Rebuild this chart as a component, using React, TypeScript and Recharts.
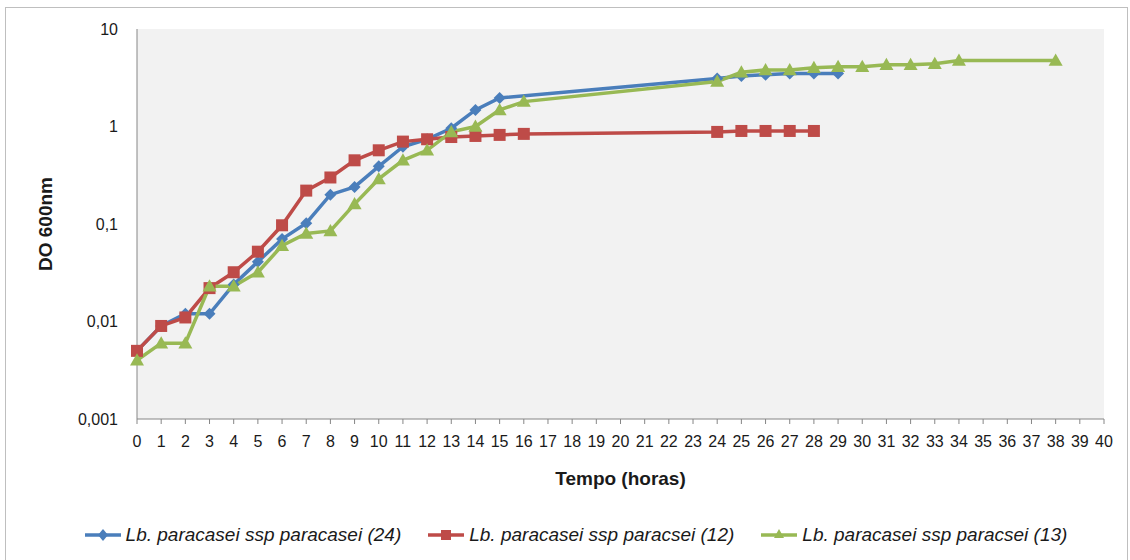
import React from 'react';
import { LineChart, Line, XAxis, YAxis, CartesianGrid, Legend } from 'recharts';

const hours24 = [0, 1, 2, 3, 4, 5, 6, 7, 8, 9, 10, 11, 12, 13, 14, 15, 24, 25, 26, 27, 28, 29];
const do24 = [0.005, 0.009, 0.012, 0.012, 0.024, 0.041, 0.07, 0.102, 0.2, 0.24, 0.39, 0.62, 0.74, 0.96, 1.48, 1.96, 3.1, 3.3, 3.4, 3.5, 3.5, 3.5];

const hours12 = [0, 1, 2, 3, 4, 5, 6, 7, 8, 9, 10, 11, 12, 13, 14, 15, 16, 24, 25, 26, 27, 28];
const do12 = [0.005, 0.009, 0.011, 0.022, 0.032, 0.052, 0.097, 0.22, 0.3, 0.45, 0.57, 0.7, 0.74, 0.78, 0.8, 0.82, 0.84, 0.88, 0.9, 0.9, 0.9, 0.9];

const hours13 = [0, 1, 2, 3, 4, 5, 6, 7, 8, 9, 10, 11, 12, 13, 14, 15, 16, 24, 25, 26, 27, 28, 29, 30, 31, 32, 33, 34, 38];
const do13 = [0.004, 0.006, 0.006, 0.023, 0.023, 0.032, 0.06, 0.08, 0.085, 0.16, 0.29, 0.45, 0.57, 0.88, 1.0, 1.48, 1.8, 2.9, 3.6, 3.8, 3.8, 4.0, 4.1, 4.1, 4.3, 4.3, 4.4, 4.75, 4.75];

const seriesNames = [
  'Lb. paracasei ssp paracasei (24)',
  'Lb. paracasei ssp paracsei (12)',
  'Lb. paracasei ssp paracsei (13)',
];
const seriesColors = ['#4A7EBB', '#BE4B48', '#98B954'];
const xTicks = Array.from({ length: 41 }, (_, i) => i);
const yTicks = [0.001, 0.01, 0.1, 1, 10];

const toRows = (hs: number[], vs: number[]) => hs.map((h, i) => ({ h, v: vs[i] }));
const data24 = toRows(hours24, do24);
const data12 = toRows(hours12, do12);
const data13 = toRows(hours13, do13);

const FONT = '"Liberation Sans", Arial, sans-serif';

const Diamond = (p: any) => {
  const { cx, cy, fill } = p;
  if (cx == null || cy == null) return null;
  const r = 6;
  return <path d={`M${cx},${cy - r}L${cx + r},${cy}L${cx},${cy + r}L${cx - r},${cy}Z`} fill={fill} />;
};
const Square = (p: any) => {
  const { cx, cy, fill } = p;
  if (cx == null || cy == null) return null;
  const r = 6;
  return <rect x={cx - r} y={cy - r} width={2 * r} height={2 * r} fill={fill} />;
};
const Triangle = (p: any) => {
  const { cx, cy, fill } = p;
  if (cx == null || cy == null) return null;
  const r = 7;
  return <path d={`M${cx},${cy - r}L${cx + r},${cy + r * 0.75}L${cx - r},${cy + r * 0.75}Z`} fill={fill} />;
};

const LegendIcon = ({ idx }: { idx: number }) => {
  const c = seriesColors[idx];
  return (
    <svg width={40} height={16} style={{ display: 'block' }}>
      <line x1={2} y1={8} x2={38} y2={8} stroke={c} strokeWidth={3.5} />
      {idx === 0 && <path d="M20,2L25,8L20,14L15,8Z" fill={c} />}
      {idx === 1 && <rect x={15} y={3} width={10} height={10} fill={c} />}
      {idx === 2 && <path d="M20,2L25,11L15,11Z" fill={c} />}
    </svg>
  );
};

const renderLegend = () => (
  <div style={{ display: 'flex', justifyContent: 'center', alignItems: 'center', height: 30, gap: 25, marginLeft: 46 }}>
    {seriesNames.map((n, i) => (
      <div key={n} style={{ display: 'flex', alignItems: 'center', gap: 3 }}>
        <LegendIcon idx={i} />
        <span style={{ fontFamily: FONT, fontStyle: 'italic', fontSize: 19, color: '#1a1a1a', whiteSpace: 'nowrap' }}>{n}</span>
      </div>
    ))}
  </div>
);

export default function App() {
  return (
    <div style={{ position: 'absolute', left: 0, top: 0, width: 1130, height: 560, background: '#fff', overflow: 'hidden' }}>
      <div style={{ position: 'absolute', left: 5, top: 7, width: 1121, height: 560, border: '1px solid #bfbfbf' }} />
      <div style={{ position: 'absolute', left: 0, top: 0 }}>
        <LineChart width={1130} height={560} margin={{ top: 29, right: 26, left: 0, bottom: 0 }}>
          <CartesianGrid fill="#f2f2f2" horizontal={false} vertical={false} />
          <XAxis
            type="number"
            dataKey="h"
            domain={[0, 40]}
            ticks={xTicks}
            interval={0}
            allowDuplicatedCategory={false}
            height={101}
            tickSize={5}
            tickMargin={12}
            stroke="#868686"
            tick={{ fill: '#1a1a1a', fontSize: 16, fontFamily: FONT }}
            label={{ value: 'Tempo (horas)', position: 'insideBottom', offset: 35, style: { fontFamily: FONT, fontWeight: 'bold', fontSize: 19, fill: '#1a1a1a' } }}
          />
          <YAxis
            type="number"
            scale="log"
            domain={[0.001, 10]}
            allowDataOverflow
            ticks={yTicks}
            interval={0}
            width={137}
            tickLine={false}
            tickSize={0}
            tickMargin={19}
            stroke="#868686"
            tickFormatter={(v: number) => String(v).replace('.', ',')}
            tick={{ fill: '#1a1a1a', fontSize: 16, fontFamily: FONT }}
            label={{ value: 'DO 600nm', angle: -90, position: 'insideLeft', offset: 45, style: { textAnchor: 'middle', fontFamily: FONT, fontWeight: 'bold', fontSize: 19, fill: '#1a1a1a' } }}
          />
          <Legend verticalAlign="bottom" height={40} content={renderLegend} />
          <Line data={data24} dataKey="v" name={seriesNames[0]} stroke={seriesColors[0]} strokeWidth={3.5} dot={<Diamond fill={seriesColors[0]} />} isAnimationActive={false} />
          <Line data={data12} dataKey="v" name={seriesNames[1]} stroke={seriesColors[1]} strokeWidth={3.5} dot={<Square fill={seriesColors[1]} />} isAnimationActive={false} />
          <Line data={data13} dataKey="v" name={seriesNames[2]} stroke={seriesColors[2]} strokeWidth={3.5} dot={<Triangle fill={seriesColors[2]} />} isAnimationActive={false} />
        </LineChart>
      </div>
    </div>
  );
}
